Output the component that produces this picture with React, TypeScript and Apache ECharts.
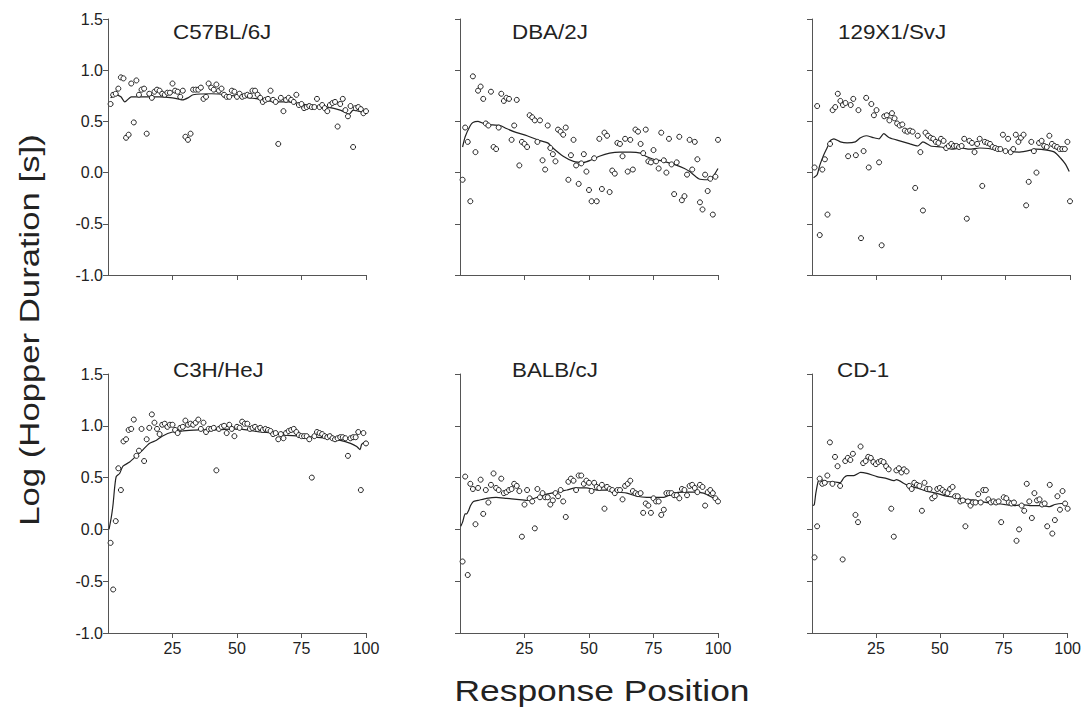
import React, { useEffect, useRef } from "react";
import * as echarts from "echarts";

// Response positions 1..100
const positions: number[] = Array.from({ length: 100 }, (_, i) => i + 1);

const strainNames = ["C57BL/6J", "DBA/2J", "129X1/SvJ", "C3H/HeJ", "BALB/cJ", "CD-1"];

const c57Values = [
  0.67, 0.76, 0.77, 0.82, 0.93, 0.92, 0.34, 0.37, 0.87, 0.49,
  0.90, 0.76, 0.81, 0.82, 0.38, 0.77, 0.73, 0.79, 0.81, 0.80,
  0.77, 0.76, 0.78, 0.78, 0.87, 0.80, 0.79, 0.74, 0.80, 0.35,
  0.32, 0.38, 0.81, 0.81, 0.81, 0.83, 0.72, 0.74, 0.87, 0.83,
  0.81, 0.86, 0.80, 0.82, 0.76, 0.74, 0.74, 0.80, 0.79, 0.74,
  0.77, 0.74, 0.75, 0.76, 0.75, 0.80, 0.80, 0.76, 0.73, 0.69,
  0.71, 0.72, 0.80, 0.71, 0.69, 0.28, 0.73, 0.60, 0.71, 0.73,
  0.71, 0.69, 0.76, 0.66, 0.67, 0.63, 0.64, 0.65, 0.64, 0.64,
  0.72, 0.64, 0.66, 0.63, 0.60, 0.66, 0.68, 0.69, 0.45, 0.67,
  0.72, 0.61, 0.55, 0.65, 0.25, 0.63, 0.64, 0.62, 0.58, 0.60,
];
const dbaValues = [
  -0.07, 0.44, 0.30, -0.28, 0.94, 0.20, 0.80, 0.84, 0.72, 0.48,
  0.46, 0.79, 0.25, 0.23, 0.44, 0.77, 0.70, 0.73, 0.72, 0.32,
  0.46, 0.71, 0.07, 0.30, 0.28, 0.25, 0.56, 0.54, 0.51, 0.30,
  0.51, 0.12, 0.03, 0.46, 0.24, 0.18, 0.11, 0.42, 0.40, 0.37,
  0.44, -0.07, 0.17, 0.32, 0.07, -0.11, 0.09, 0.18, 0.01, -0.17,
  -0.28, 0.14, -0.28, 0.33, -0.16, 0.39, 0.36, -0.19, 0.02, -0.01,
  0.29, 0.28, 0.16, 0.33, 0.01, 0.32, 0.03, 0.42, 0.40, 0.28,
  0.19, 0.42, 0.11, 0.10, 0.22, 0.11, 0.04, 0.39, 0.12, 0.00,
  0.33, 0.08, -0.21, 0.10, 0.35, -0.27, -0.23, -0.02, 0.32, 0.03,
  0.30, 0.13, -0.29, -0.36, -0.02, -0.18, -0.06, -0.41, -0.04, 0.32,
];
const s129Values = [
  0.05, 0.65, -0.61, 0.03, 0.13, -0.41, 0.28, 0.61, 0.64, 0.77,
  0.70, 0.66, 0.68, 0.16, 0.66, 0.72, 0.17, 0.61, -0.64, 0.21,
  0.73, 0.05, 0.67, 0.56, 0.61, 0.10, -0.71, 0.55, 0.56, 0.51,
  0.58, 0.53, 0.48, 0.46, 0.47, 0.41, 0.40, 0.41, 0.40, -0.15,
  0.36, 0.20, -0.37, 0.39, 0.36, 0.34, 0.33, 0.30, 0.29, 0.33,
  0.31, 0.24, 0.26, 0.28, 0.26, 0.26, 0.25, 0.26, 0.33, -0.45,
  0.31, 0.29, 0.20, 0.28, 0.33, -0.13, 0.30, 0.29, 0.28, 0.25,
  0.24, 0.23, 0.23, 0.37, 0.21, 0.33, 0.20, 0.23, 0.37, 0.30,
  0.34, 0.37, -0.32, -0.09, 0.30, 0.21, 0.00, 0.29, 0.31, 0.26,
  0.25, 0.36, 0.28, 0.26, 0.25, 0.23, 0.23, 0.23, 0.30, -0.28,
];
const c3hValues = [
  -0.13, -0.58, 0.08, 0.59, 0.38, 0.85, 0.87, 0.96, 0.97, 1.06,
  0.71, 0.76, 0.97, 0.66, 0.87, 0.98, 1.11, 1.03, 0.97, 0.92,
  1.01, 1.02, 0.99, 1.01, 1.01, 0.96, 0.93, 0.98, 0.99, 1.05,
  1.01, 1.02, 1.01, 1.03, 1.06, 0.97, 1.03, 0.94, 0.97, 0.97,
  0.98, 0.57, 0.97, 0.99, 1.00, 0.93, 1.01, 0.97, 0.90, 0.99,
  0.98, 1.04, 1.02, 1.02, 0.97, 0.98, 0.99, 0.97, 0.98, 0.96,
  0.97, 0.96, 0.95, 0.92, 0.93, 0.87, 0.92, 0.88, 0.93, 0.95,
  0.96, 0.97, 0.94, 0.91, 0.90, 0.90, 0.90, 0.87, 0.50, 0.90,
  0.94, 0.93, 0.92, 0.90, 0.89, 0.90, 0.88, 0.87, 0.88, 0.89,
  0.89, 0.88, 0.71, 0.88, 0.89, 0.89, 0.94, 0.38, 0.93, 0.83,
];
const balbValues = [
  -0.31, 0.51, -0.44, 0.44, 0.39, 0.05, 0.40, 0.48, 0.15, 0.38,
  0.26, 0.43, 0.54, 0.40, 0.38, 0.49, 0.35, 0.36, 0.38, 0.39,
  0.44, 0.42, 0.37, -0.07, 0.24, 0.38, 0.30, 0.27, 0.01, 0.39,
  0.31, 0.35, 0.31, 0.31, 0.24, 0.28, 0.35, 0.32, 0.38, 0.27,
  0.12, 0.46, 0.49, 0.47, 0.38, 0.52, 0.52, 0.44, 0.47, 0.45,
  0.37, 0.45, 0.41, 0.40, 0.43, 0.20, 0.41, 0.39, 0.38, 0.35,
  0.38, 0.38, 0.29, 0.42, 0.44, 0.47, 0.37, 0.35, 0.34, 0.35,
  0.16, 0.25, 0.23, 0.16, 0.30, 0.27, 0.27, 0.14, 0.19, 0.35,
  0.35, 0.35, 0.33, 0.33, 0.30, 0.39, 0.38, 0.33, 0.42, 0.43,
  0.40, 0.36, 0.43, 0.41, 0.23, 0.36, 0.38, 0.35, 0.30, 0.27,
];
const cd1Values = [
  -0.27, 0.03, 0.49, 0.44, 0.45, 0.52, 0.84, 0.44, 0.70, 0.61,
  0.42, -0.29, 0.66, 0.69, 0.67, 0.73, 0.14, 0.07, 0.80, 0.64,
  0.66, 0.70, 0.69, 0.65, 0.63, 0.65, 0.66, 0.65, 0.61, 0.58,
  0.20, -0.07, 0.57, 0.59, 0.55, 0.58, 0.56, 0.42, 0.39, 0.45,
  0.43, 0.42, 0.18, 0.45, 0.39, 0.39, 0.30, 0.32, 0.39, 0.40,
  0.38, 0.36, 0.35, 0.39, 0.41, 0.32, 0.32, 0.27, 0.28, 0.03,
  0.27, 0.23, 0.26, 0.26, 0.34, 0.26, 0.38, 0.38, 0.29, 0.26,
  0.27, 0.26, 0.27, 0.07, 0.31, 0.30, 0.26, 0.25, 0.26, -0.11,
  0.00, 0.23, 0.18, 0.44, 0.27, 0.11, 0.35, 0.28, 0.29, 0.24,
  0.25, 0.03, 0.43, -0.04, 0.09, 0.32, 0.19, 0.37, 0.25, 0.20,
];

// Smoothed curves: [position, value]
const c57Line = [
  [1, 0.73], [3, 0.76], [5, 0.74], [6.5, 0.69], [9, 0.74], [12, 0.74], [20, 0.74],
  [25, 0.73], [29, 0.71], [31, 0.73], [33, 0.76], [40, 0.77], [46, 0.76], [51, 0.74],
  [58, 0.72], [65, 0.69], [70, 0.69], [75, 0.67], [80, 0.65], [85, 0.64], [90, 0.61],
  [93.5, 0.57], [95, 0.61], [97, 0.6], [100, 0.59],
];
const dbaLine = [
  [1, 0.25], [2, 0.35], [4, 0.46], [5, 0.49], [7, 0.5], [10, 0.47], [15.5, 0.46],
  [18, 0.43], [22, 0.39], [26, 0.36], [30, 0.32], [34, 0.29], [36, 0.24], [40, 0.16],
  [44, 0.11], [48, 0.1], [50.5, 0.12], [54, 0.16], [58, 0.19], [62, 0.2], [66, 0.2],
  [70, 0.19], [72, 0.16], [75, 0.13], [79, 0.11], [83, 0.08], [87, 0.04], [89, 0.01],
  [92.5, -0.06], [96, -0.07], [98, -0.04], [100, 0.04],
];
const s129Line = [
  [0.6, -0.05], [2, -0.02], [3, 0.07], [4.5, 0.17], [6, 0.25], [7, 0.31], [8.5, 0.33],
  [11, 0.3], [13.6, 0.29], [16.8, 0.3], [18.8, 0.34], [21, 0.36], [24, 0.34], [26, 0.33],
  [27.8, 0.38], [30, 0.34], [34, 0.31], [38, 0.28], [41, 0.26], [43, 0.3], [46, 0.26],
  [50, 0.25], [54, 0.23], [58, 0.24], [61, 0.23], [65, 0.24], [70, 0.23], [76, 0.21],
  [80, 0.2], [83, 0.21], [87, 0.23], [91, 0.22], [94, 0.2], [96.4, 0.14], [98.3, 0.08],
  [99.7, 0.01],
];
const c3hLine = [
  [0.4, 0.0], [1.3, 0.12], [2, 0.25], [2.6, 0.41], [3.2, 0.51], [4.5, 0.54], [5.8, 0.61],
  [8.4, 0.65], [11, 0.71], [13.6, 0.77], [16, 0.83], [18.8, 0.86], [21, 0.9], [25, 0.94],
  [29, 0.95], [35.6, 0.96], [42, 0.96], [48.5, 0.97], [53.7, 0.96], [59, 0.94], [64, 0.93],
  [69, 0.91], [74.4, 0.9], [79.6, 0.89], [85, 0.88], [90, 0.86], [94, 0.83], [96.4, 0.8],
  [97.7, 0.77], [98.3, 0.82], [100, 0.85],
];
const balbLine = [
  [0.3, 0.03], [1, 0.07], [2, 0.15], [2.6, 0.15], [3.3, 0.18], [4.1, 0.23], [5.2, 0.27],
  [7, 0.28], [10.3, 0.3], [14, 0.31], [18, 0.3], [22, 0.29], [26, 0.28], [30, 0.31],
  [33.6, 0.34], [37.5, 0.36], [41.4, 0.38], [45, 0.4], [49, 0.4], [53, 0.38], [57, 0.38],
  [60.8, 0.36], [64.7, 0.35], [68.6, 0.32], [72.4, 0.31], [76.3, 0.31], [79, 0.31],
  [82.8, 0.35], [86.7, 0.36], [90.6, 0.36], [94.4, 0.35], [97.7, 0.31], [99.6, 0.28],
];
const cd1Line = [
  [0.3, 0.23], [0.9, 0.24], [1.5, 0.35], [2.5, 0.47], [3.5, 0.48], [6, 0.46], [8.6, 0.46],
  [11, 0.45], [12.5, 0.5], [13.8, 0.52], [16.4, 0.52], [19, 0.55], [21.5, 0.54], [25.4, 0.51],
  [29.3, 0.49], [32, 0.47], [33, 0.48], [37, 0.43], [41, 0.4], [44.8, 0.37], [48.6, 0.35],
  [52.5, 0.32], [56.4, 0.31], [60, 0.29], [64, 0.28], [68, 0.26], [72, 0.25], [75.7, 0.24],
  [79.6, 0.23], [82, 0.24], [86, 0.23], [90, 0.23], [93, 0.22], [95, 0.24], [97.7, 0.25],
  [99.6, 0.23],
];

const xTicks = [25, 50, 75, 100];

const panelValues = [c57Values, dbaValues, s129Values, c3hValues, balbValues, cd1Values];
const panelLines = [c57Line, dbaLine, s129Line, c3hLine, balbLine, cd1Line];

const FONT = "'Liberation Sans', Arial, Helvetica, sans-serif";
const INK = "#222";

export default function App() {
  const ref = useRef<HTMLDivElement>(null);

  useEffect(() => {
    if (!ref.current) return;
    const chart = echarts.init(ref.current, null, { renderer: "svg" });

    const colLeft = [108, 460, 812];
    const rowTop = [19, 374];
    const rowHeight = [256, 259];
    const plotWidth = 258;
    const titleLeft = [173, 512, 838, 173, 512, 837];
    const titleY = [32, 370];

    const grids: any[] = [];
    const xAxes: any[] = [];
    const yAxes: any[] = [];
    const series: any[] = [];
    const graphics: any[] = [];

    for (let i = 0; i < 6; i++) {
      const row = i < 3 ? 0 : 1;
      const col = i % 3;
      grids.push({
        left: colLeft[col],
        top: rowTop[row],
        width: plotWidth,
        height: rowHeight[row],
        containLabel: false,
      });
      xAxes.push({
        gridIndex: i,
        type: "value",
        min: 0,
        max: 100,
        interval: 25,
        axisLine: { show: true, onZero: false, lineStyle: { color: "#555", width: 1 } },
        axisTick: {
          show: true,
          customValues: xTicks,
          length: 5,
          inside: false,
          lineStyle: { color: "#555", width: 1 },
        },
        axisLabel: {
          show: row === 1,
          customValues: xTicks,
          fontSize: 16,
          fontFamily: FONT,
          color: INK,
          margin: 7,
        },
        splitLine: { show: false },
      });
      yAxes.push({
        gridIndex: i,
        type: "value",
        min: -1,
        max: 1.5,
        interval: 0.5,
        axisLine: { show: true, onZero: false, lineStyle: { color: "#555", width: 1 } },
        axisTick: { show: true, length: 5, inside: false, lineStyle: { color: "#555", width: 1 } },
        axisLabel: {
          show: col === 0,
          formatter: (v: number) => v.toFixed(1),
          fontSize: 16,
          fontFamily: FONT,
          color: INK,
          margin: 5,
        },
        splitLine: { show: false },
      });
      series.push({
        type: "line",
        xAxisIndex: i,
        yAxisIndex: i,
        data: panelLines[i],
        showSymbol: false,
        symbol: "none",
        smooth: 0.2,
        lineStyle: { color: "#222", width: 1.2 },
        z: 2,
        silent: true,
      });
      series.push({
        type: "scatter",
        xAxisIndex: i,
        yAxisIndex: i,
        data: positions.map((p, k) => [p, panelValues[i][k]]),
        symbol: "circle",
        symbolSize: 5,
        itemStyle: { color: "#fff", borderColor: "#222", borderWidth: 1, opacity: 1 },
        z: 3,
        silent: true,
      });
      graphics.push({
        type: "text",
        x: titleLeft[i],
        y: titleY[row],
        scaleX: 1.12,
        style: {
          text: strainNames[i],
          fontSize: 20,
          fontFamily: FONT,
          fill: INK,
          align: "left",
          verticalAlign: "middle",
        },
      });
    }

    graphics.push({
      type: "text",
      x: 29,
      y: 330,
      rotation: Math.PI / 2,
      scaleX: 1.24,
      style: {
        text: "Log (Hopper Duration [s])",
        fontSize: 28,
        fontFamily: FONT,
        fill: INK,
        align: "center",
        verticalAlign: "middle",
      },
    });
    graphics.push({
      type: "text",
      x: 602,
      y: 690,
      scaleX: 1.18,
      style: {
        text: "Response Position",
        fontSize: 30,
        fontFamily: FONT,
        fill: INK,
        align: "center",
        verticalAlign: "middle",
      },
    });

    chart.setOption({
      animation: false,
      backgroundColor: "#ffffff",
      grid: grids,
      xAxis: xAxes,
      yAxis: yAxes,
      series,
      graphic: graphics,
      tooltip: { show: false },
      legend: { show: false },
    });

    return () => {
      chart.dispose();
    };
  }, []);

  return (
    <div
      ref={ref}
      style={{ position: "absolute", left: 0, top: 0, width: 1084, height: 708, background: "#fff" }}
    />
  );
}
